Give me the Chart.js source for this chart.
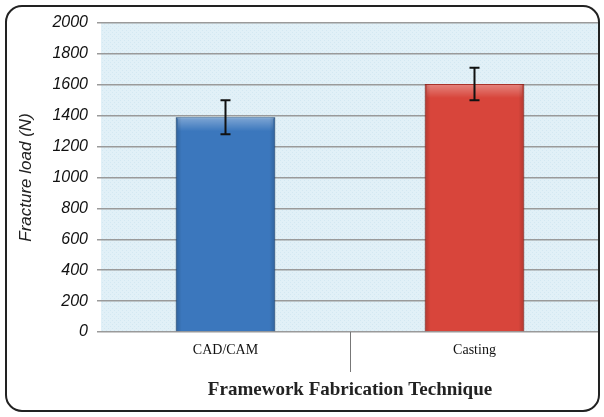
<!DOCTYPE html>
<html>
<head>
<meta charset="utf-8">
<script src="https://cdn.jsdelivr.net/npm/chart.js@4"></script>
<style>
  html, body { margin: 0; padding: 0; background: #fff; }
  #wrap { width: 604px; height: 417px; }
</style>
</head>
<body>
<div id="wrap"><canvas id="chart" width="604" height="417"></canvas></div>
<script>
// --- data ---
const techniques = ['CAD/CAM', 'Casting'];
const fractureLoad = [1390, 1605];
const loadSD = [110, 105];
const barColors = ['#3b77bd', '#d8453b'];
const barEdges = ['#25558f', '#a8322a'];
const yTicks = [0, 200, 400, 600, 800, 1000, 1200, 1400, 1600, 1800, 2000];

// light dotted texture for the plot background
function makePattern(ctx) {
    const c = document.createElement('canvas');
    c.width = 4; c.height = 4;
    const p = c.getContext('2d');
    p.fillStyle = '#e1f0f7';
    p.fillRect(0, 0, 4, 4);
    p.fillStyle = '#d3e8f2';
    p.fillRect(0, 0, 1, 1);
    p.fillRect(2, 2, 1, 1);
    return ctx.createPattern(c, 'repeat');
}

const framePlugin = {
    id: 'frame',
    beforeDraw(chart) {
        const { ctx, chartArea: a } = chart;
        ctx.save();
        ctx.fillStyle = '#fff';
        ctx.fillRect(0, 0, chart.width, chart.height);
        ctx.fillStyle = makePattern(ctx);
        ctx.fillRect(a.left, a.top, a.right - a.left, a.bottom - a.top);
        ctx.restore();
    },
    afterDraw(chart) {
        const { ctx, chartArea: a, scales } = chart;
        ctx.save();
        // divider between categories below the axis
        const xs = scales.x;
        const mid = (xs.getPixelForValue(0) + xs.getPixelForValue(1)) / 2;
        ctx.strokeStyle = '#777';
        ctx.lineWidth = 1;
        ctx.beginPath();
        ctx.moveTo(mid + 0.5, a.bottom);
        ctx.lineTo(mid + 0.5, a.bottom + 40);
        ctx.stroke();
        // rounded outer frame
        ctx.strokeStyle = '#222';
        ctx.lineWidth = 2;
        ctx.beginPath();
        ctx.roundRect(6, 6, 593, 405, 16);
        ctx.stroke();
        ctx.restore();
    }
};

const barStylePlugin = {
    id: 'barStyle',
    afterDatasetsDraw(chart) {
        const { ctx, scales } = chart;
        const meta = chart.getDatasetMeta(0);
        ctx.save();
        meta.data.forEach((bar, i) => {
            const w = bar.width;
            const left = bar.x - w / 2;
            // soft top highlight
            const g = ctx.createLinearGradient(0, bar.y, 0, bar.y + 14);
            g.addColorStop(0, 'rgba(255,255,255,0.35)');
            g.addColorStop(1, 'rgba(255,255,255,0)');
            ctx.fillStyle = g;
            ctx.fillRect(left + 2, bar.y + 1, w - 4, 14);
            // darker side edges
            const s = ctx.createLinearGradient(left, 0, left + w, 0);
            s.addColorStop(0, 'rgba(0,0,0,0.18)');
            s.addColorStop(0.06, 'rgba(0,0,0,0)');
            s.addColorStop(0.94, 'rgba(0,0,0,0)');
            s.addColorStop(1, 'rgba(0,0,0,0.18)');
            ctx.fillStyle = s;
            ctx.fillRect(left, bar.y, w, bar.base - bar.y);

            // error bar
            const hi = scales.y.getPixelForValue(fractureLoad[i] + loadSD[i]);
            const lo = scales.y.getPixelForValue(fractureLoad[i] - loadSD[i]);
            ctx.strokeStyle = '#111';
            ctx.lineWidth = 2;
            ctx.beginPath();
            ctx.moveTo(bar.x, hi);
            ctx.lineTo(bar.x, lo);
            ctx.moveTo(bar.x - 5, hi);
            ctx.lineTo(bar.x + 5, hi);
            ctx.moveTo(bar.x - 5, lo);
            ctx.lineTo(bar.x + 5, lo);
            ctx.stroke();
        });
        ctx.restore();
    }
};

new Chart(document.getElementById('chart'), {
    type: 'bar',
    data: {
        labels: techniques,
        datasets: [{
            data: fractureLoad,
            backgroundColor: barColors,
            borderColor: barEdges,
            borderWidth: 1,
            barPercentage: 0.4,
            categoryPercentage: 1
        }]
    },
    options: {
        responsive: false,
        animation: false,
        layout: { padding: { left: 16, right: 5, top: 23, bottom: 16 } },
        plugins: {
            legend: { display: false },
            tooltip: { enabled: false }
        },
        scales: {
            y: {
                min: 0,
                max: 2000,
                afterFit: s => { s.width = 85; },
                afterBuildTicks: s => { s.ticks = yTicks.map(v => ({ value: v })); },
                border: { display: false },
                grid: { color: '#9a9a9a', lineWidth: 1.5, tickLength: 4 },
                ticks: {
                    color: '#111',
                    padding: 9,
                    callback: v => String(v),
                    font: { family: 'Liberation Sans, Arial', size: 16, style: 'italic' }
                },
                title: {
                    display: true,
                    text: 'Fracture load (N)',
                    color: '#222',
                    padding: { top: 0, bottom: 2 },
                    font: { family: 'Liberation Sans, Arial', size: 17, style: 'italic' }
                }
            },
            x: {
                border: { display: false },
                grid: { display: false },
                afterFit: s => { s.height = 69; },
                ticks: {
                    color: '#111',
                    padding: 2,
                    font: { family: 'Liberation Serif, Times New Roman', size: 14 }
                },
                title: {
                    display: true,
                    text: 'Framework Fabrication Technique',
                    color: '#222',
                    padding: { top: 8, bottom: 0 },
                    font: { family: 'Liberation Serif, Times New Roman', size: 19, weight: 'bold' }
                }
            }
        }
    },
    plugins: [framePlugin, barStylePlugin]
});
</script>
</body>
</html>
